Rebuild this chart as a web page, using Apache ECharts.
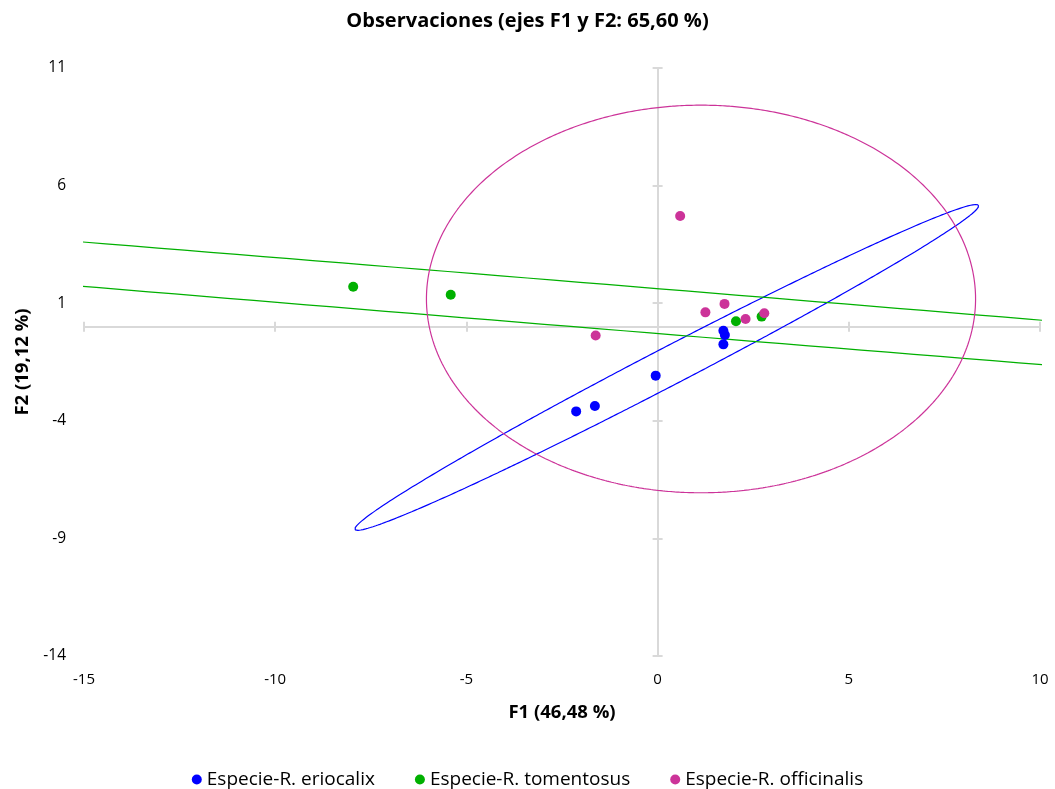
<!DOCTYPE html>
<html><head><meta charset="utf-8">
<script src="https://cdn.jsdelivr.net/npm/echarts@6/dist/echarts.min.js"></script>
<style>html,body{margin:0;padding:0;background:#fff}#c{width:1055px;height:789px}</style>
</head><body><div id="c"></div>
<script>
// ---- data ----
const seriesNames = ['Especie-R. eriocalix', 'Especie-R. tomentosus', 'Especie-R. officinalis'];
const eriocalixF1 = [1.72, 1.76, 1.72, -0.05, -1.64, -2.13];
const eriocalixF2 = [-0.17, -0.35, -0.75, -2.08, -3.37, -3.60];
const tomentosusF1 = [-7.96, -5.41, 2.05, 2.72];
const tomentosusF2 = [1.70, 1.36, 0.23, 0.43];
const officinalisF1 = [0.59, 1.75, 1.25, 2.30, 2.79, -1.62];
const officinalisF2 = [4.71, 0.97, 0.61, 0.33, 0.57, -0.37];
// confidence ellipses (one per species): centre, semi-axes, rotation in degrees
const ellipseCenterF1 = [0.24, -2.15, 1.135];
const ellipseCenterF2 = [-1.73, 0.95, 1.18];
const ellipseSemiAxisA = [10.68, 80, 7.18];
const ellipseSemiAxisB = [0.69, 0.947, 8.24];
const ellipseAngleDeg = [40.3, -7.56, 0];
const xTickMin = -15, xTickMax = 10, yTickMin = -14, yTickMax = 11, tickStep = 5;

// ---- style ----
const colors = ['#0000FF', '#00B000', '#CC3399'];
const FONT = "'Open Sans', sans-serif";
const GRAY = '#D9D9D9';

const pts = (xs, ys) => xs.map((x, i) => [x, ys[i]]);
const scatterData = [pts(eriocalixF1, eriocalixF2), pts(tomentosusF1, tomentosusF2), pts(officinalisF1, officinalisF2)];

function ellipsePath(i) {
  const out = [];
  const th = ellipseAngleDeg[i] * Math.PI / 180;
  const a = ellipseSemiAxisA[i], b = ellipseSemiAxisB[i];
  for (let k = 0; k <= 720; k++) {
    const t = k / 720 * 2 * Math.PI;
    out.push([
      ellipseCenterF1[i] + a * Math.cos(t) * Math.cos(th) - b * Math.sin(t) * Math.sin(th),
      ellipseCenterF2[i] + a * Math.cos(t) * Math.sin(th) + b * Math.sin(t) * Math.cos(th)
    ]);
  }
  return out;
}

const xBase = {type: 'value', min: xTickMin, max: xTickMax, interval: tickStep, position: 'bottom', splitLine: {show: false}};
const yBase = {type: 'value', min: yTickMin, max: yTickMax, interval: tickStep, position: 'left', splitLine: {show: false}};
const zeroLine = {show: true, onZero: true, onZeroAxisIndex: 0, lineStyle: {color: GRAY, width: 2}};

const option = {
  backgroundColor: '#fff',
  animation: false,
  title: {text: 'Observaciones (ejes F1 y F2: 65,60 %)', left: 'center', top: 6,
    textStyle: {fontFamily: FONT, fontSize: 20, fontWeight: 'bold', color: '#000'}},
  legend: {bottom: -5, left: 'center', icon: 'circle', itemWidth: 10, itemHeight: 10, itemGap: 40,
    data: seriesNames, textStyle: {fontFamily: FONT, fontSize: 19, color: '#000'}},
  grid: {left: 84, right: 15, top: 68, bottom: 133, containLabel: false},
  xAxis: [
    Object.assign({}, xBase, {axisLine: {show: false, onZero: false}, axisTick: {show: false},
      axisLabel: {margin: 16, color: '#000', fontSize: 15, fontFamily: FONT},
      name: 'F1 (46,48 %)', nameLocation: 'middle', nameGap: 47,
      nameTextStyle: {fontFamily: FONT, fontSize: 18.5, fontWeight: 'bold', color: '#000'}}),
    Object.assign({}, xBase, {axisLine: zeroLine, axisTick: {show: true, inside: true, length: 5, lineStyle: {color: GRAY, width: 2}}, axisLabel: {show: false}}),
    Object.assign({}, xBase, {axisLine: zeroLine, axisTick: {show: true, inside: false, length: 5, lineStyle: {color: GRAY, width: 2}}, axisLabel: {show: false}})
  ],
  yAxis: [
    Object.assign({}, yBase, {axisLine: {show: false, onZero: false}, axisTick: {show: false},
      axisLabel: {margin: 18, color: '#000', fontSize: 15.5, fontFamily: FONT},
      name: 'F2 (19,12 %)', nameLocation: 'middle', nameGap: 51, nameRotate: 90,
      nameTextStyle: {fontFamily: FONT, fontSize: 18.5, fontWeight: 'bold', color: '#000'}}),
    Object.assign({}, yBase, {axisLine: zeroLine, axisTick: {show: true, inside: true, length: 5, lineStyle: {color: GRAY, width: 2}}, axisLabel: {show: false}}),
    Object.assign({}, yBase, {axisLine: zeroLine, axisTick: {show: true, inside: false, length: 5, lineStyle: {color: GRAY, width: 2}}, axisLabel: {show: false}})
  ],
  series: []
};

seriesNames.forEach((n, i) => {
  option.series.push({
    name: n + ' (elipse)', type: 'line', data: ellipsePath(i), showSymbol: false, symbol: 'none',
    silent: true, clip: true, smooth: false, z: 3,
    lineStyle: {color: colors[i], width: 1.2}
  });
});
seriesNames.forEach((n, i) => {
  option.series.push({
    name: n, type: 'scatter', data: scatterData[i], symbol: 'circle', symbolSize: 10, z: 5,
    itemStyle: {color: colors[i], opacity: 1}
  });
});

const chart = echarts.init(document.getElementById('c'), null, {renderer: 'canvas'});
chart.setOption(option);
</script></body></html>
